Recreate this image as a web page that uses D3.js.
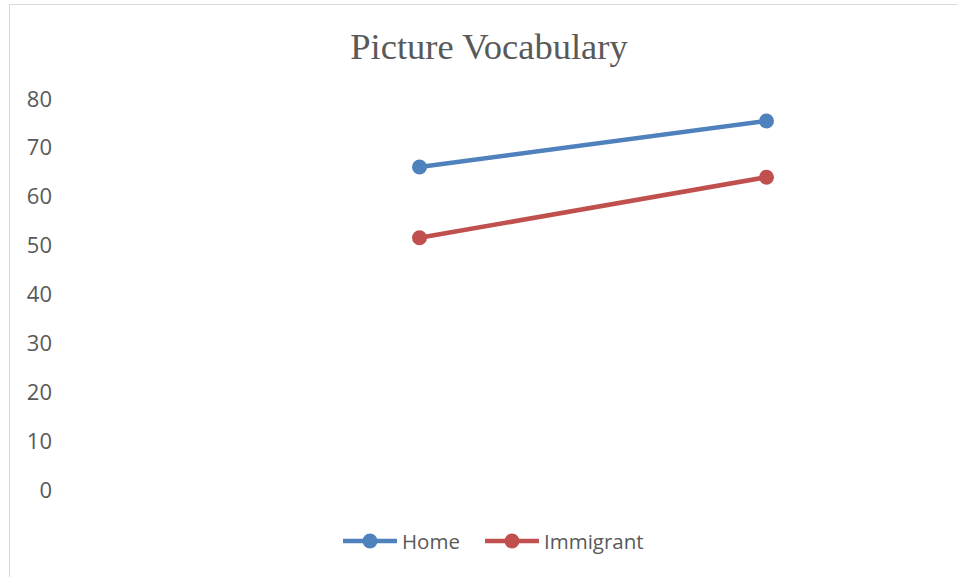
<!DOCTYPE html>
<html>
<head>
<meta charset="utf-8">
<script src="https://cdn.jsdelivr.net/npm/d3@7"></script>
<style>
	body { margin: 0; background: #fff; }
	svg text { fill: #595959; }
</style>
</head>
<body>
<svg id="chart" width="958" height="577"></svg>
<script>
// datos
var categories = ["Time 1", "Time 2"];
var seriesNames = ["Home", "Immigrant"];
var homeValues = [66.1, 75.5];
var immigrantValues = [51.6, 64.0];
var yTicks = [0, 10, 20, 30, 40, 50, 60, 70, 80];
var colors = ["#4f81bd", "#c0504d"];

var svg = d3.select("#chart");

// marco del grafico (sale por la derecha y por abajo)
svg.append("rect")
	.attr("x", 9.5).attr("y", 4.5)
	.attr("width", 1000).attr("height", 1000)
	.attr("fill", "none")
	.attr("stroke", "#d9d9d9");

svg.append("text")
	.attr("x", 489).attr("y", 59)
	.attr("text-anchor", "middle")
	.style("font-family", "'Liberation Serif', 'Times New Roman', serif")
	.style("font-size", "36.5px")
	.text("Picture Vocabulary");

var x = d3.scaleBand().domain(categories).range([246, 940]);
var y = d3.scaleLinear().domain([0, 80]).range([490, 99]);

// eje y solo con etiquetas
var yAxis = svg.append("g")
	.attr("transform", "translate(52,0)")
	.call(d3.axisLeft(y).tickValues(yTicks).tickSize(0).tickPadding(0));
yAxis.select(".domain").remove();
yAxis.selectAll("text")
	.style("font-family", "'Open Sans', sans-serif")
	.style("font-size", "22px")
	.attr("fill", "#595959");

var series = [
	{ name: seriesNames[0], values: homeValues, color: colors[0] },
	{ name: seriesNames[1], values: immigrantValues, color: colors[1] }
];

var line = d3.line()
	.x(function(d, i) { return x(categories[i]) + x.bandwidth() / 2; })
	.y(function(d) { return y(d); });

series.forEach(function(s) {
	var g = svg.append("g");
	g.append("path")
		.attr("d", line(s.values))
		.attr("fill", "none")
		.attr("stroke", s.color)
		.attr("stroke-width", 4.5)
		.attr("stroke-linecap", "round");
	g.selectAll("circle")
		.data(s.values)
		.enter().append("circle")
		.attr("cx", function(d, i) { return x(categories[i]) + x.bandwidth() / 2; })
		.attr("cy", function(d) { return y(d); })
		.attr("r", 7.5)
		.attr("fill", s.color);
});

// leyenda
var legendX = [343, 485];
series.forEach(function(s, i) {
	var lg = svg.append("g").attr("transform", "translate(" + legendX[i] + ",541)");
	lg.append("line")
		.attr("x1", 0).attr("x2", 54)
		.attr("stroke", s.color)
		.attr("stroke-width", 4.5);
	lg.append("circle")
		.attr("cx", 27).attr("r", 7.5)
		.attr("fill", s.color);
	lg.append("text")
		.attr("x", 59).attr("y", 7.5)
		.style("font-family", "'Open Sans', sans-serif")
		.style("font-size", "20.5px")
		.text(s.name);
});
</script>
</body>
</html>
